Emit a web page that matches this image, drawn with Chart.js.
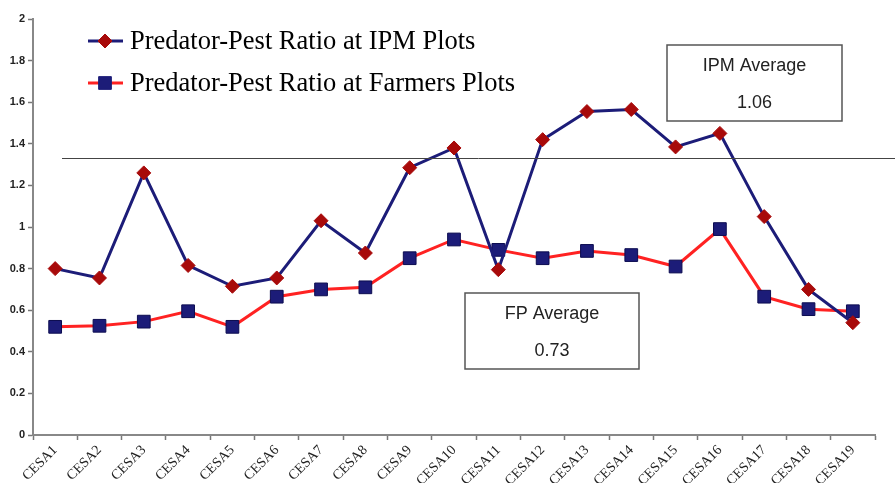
<!DOCTYPE html>
<html lang="en">
<head>
  <meta charset="UTF-8">
  <title>Predator-Pest Ratio</title>
  <script src="https://cdn.jsdelivr.net/npm/chart.js"></script>
  <style>
    html, body { margin: 0; padding: 0; background: #fff; }
    #wrap { width: 895px; height: 483px; }
  </style>
</head>
<body>
  <div id="wrap"><canvas id="ratioChart" width="895" height="483"></canvas></div>

  <script>
    const sites = ['CESA1', 'CESA2', 'CESA3', 'CESA4', 'CESA5', 'CESA6', 'CESA7', 'CESA8', 'CESA9', 'CESA10',
      'CESA11', 'CESA12', 'CESA13', 'CESA14', 'CESA15', 'CESA16', 'CESA17', 'CESA18', 'CESA19'];
    const ipmRatio = [0.80, 0.755, 1.26, 0.815, 0.715, 0.755, 1.03, 0.875, 1.285, 1.38,
      0.795, 1.42, 1.555, 1.565, 1.385, 1.45, 1.05, 0.70, 0.54];
    const farmerRatio = [0.52, 0.525, 0.545, 0.595, 0.52, 0.665, 0.70, 0.71, 0.85, 0.94,
      0.89, 0.85, 0.885, 0.865, 0.81, 0.99, 0.665, 0.605, 0.595];
    const yTicks = [0, 0.2, 0.4, 0.6, 0.8, 1, 1.2, 1.4, 1.6, 1.8, 2];
    const refLine = 1.33;
    const ipmAvg = '1.06';
    const fpAvg = '0.73';

    const navy = '#1c1c78';
    const red = '#ff2222';
    const darkRed = '#a80a0a';

    // legend, average boxes and the reference line
    const extras = {
      id: 'extras',
      afterDatasetsDraw(chart) {
        const ctx = chart.ctx;
        const y = chart.scales.y;
        ctx.save();

        // horizontal line
        ctx.strokeStyle = '#444';
        ctx.lineWidth = 1;
        ctx.beginPath();
        const ly = Math.round(y.getPixelForValue(refLine)) + 0.5;
        ctx.moveTo(62, ly);
        ctx.lineTo(chart.width, ly);
        ctx.stroke();

        // legend
        const items = [
          { text: 'Predator-Pest Ratio at IPM Plots', line: navy, fill: darkRed, style: 'rectRot', r: 7, y: 41 },
          { text: 'Predator-Pest Ratio at Farmers Plots', line: red, fill: navy, style: 'rect', r: 9, y: 83 }
        ];
        items.forEach(it => {
          ctx.strokeStyle = it.line;
          ctx.lineWidth = 3;
          ctx.beginPath();
          ctx.moveTo(88, it.y);
          ctx.lineTo(123, it.y);
          ctx.stroke();
          ctx.fillStyle = it.fill;
          ctx.strokeStyle = it.fill;
          ctx.lineWidth = 1;
          Chart.helpers.drawPoint(ctx, { pointStyle: it.style, radius: it.r, borderWidth: 1 }, 105, it.y);
          ctx.fillStyle = '#000';
          ctx.font = '26.5px "Liberation Serif", "Times New Roman", serif';
          ctx.textAlign = 'left';
          ctx.textBaseline = 'middle';
          ctx.fillText(it.text, 130, it.y + 1);
        });

        // average boxes
        const boxes = [
          { x: 667, y: 45, w: 175, h: 76, title: 'IPM Average', val: ipmAvg },
          { x: 465, y: 293, w: 174, h: 76, title: 'FP Average', val: fpAvg }
        ];
        boxes.forEach(b => {
          ctx.fillStyle = '#fff';
          ctx.fillRect(b.x, b.y, b.w, b.h);
          ctx.strokeStyle = '#555';
          ctx.lineWidth = 1.5;
          ctx.strokeRect(b.x, b.y, b.w, b.h);
          ctx.fillStyle = '#222';
          ctx.font = '18px "Liberation Sans", Arial, sans-serif';
          ctx.textAlign = 'center';
          ctx.textBaseline = 'middle';
          ctx.fillText(b.title, b.x + b.w / 2, b.y + 21);
          ctx.fillText(b.val, b.x + b.w / 2, b.y + 58);
        });

        ctx.restore();
      }
    };

    new Chart(document.getElementById('ratioChart'), {
      type: 'line',
      data: {
        labels: sites,
        datasets: [
          {
            label: 'Predator-Pest Ratio at IPM Plots',
            data: ipmRatio,
            borderColor: navy,
            borderWidth: 3,
            pointStyle: 'rectRot',
            pointRadius: 7,
            pointBackgroundColor: darkRed,
            pointBorderColor: darkRed,
            pointBorderWidth: 1,
            tension: 0,
            order: 1
          },
          {
            label: 'Predator-Pest Ratio at Farmers Plots',
            data: farmerRatio,
            borderColor: red,
            borderWidth: 3,
            pointStyle: 'rect',
            pointRadius: 9,
            pointBackgroundColor: navy,
            pointBorderColor: '#0c0c50',
            pointBorderWidth: 1,
            tension: 0,
            order: 2
          }
        ]
      },
      options: {
        responsive: false,
        animation: false,
        layout: { padding: { top: 19, right: 20, left: 0, bottom: 0 } },
        plugins: {
          legend: { display: false },
          tooltip: { enabled: false }
        },
        scales: {
          x: {
            offset: true,
            grid: { offset: true, drawOnChartArea: false, tickLength: 5, color: '#777', tickWidth: 1.5 },
            border: { color: '#888', width: 2 },
            ticks: {
              autoSkip: false,
              maxRotation: 45,
              minRotation: 45,
              color: '#222',
              padding: 2,
              font: { family: '"Liberation Serif", "Times New Roman", serif', size: 14 }
            },
            afterFit(scale) { scale.height = 48; }
          },
          y: {
            min: 0,
            max: 2,
            afterBuildTicks(scale) { scale.ticks = yTicks.map(v => ({ value: v })); },
            grid: { drawOnChartArea: false, tickLength: 5, color: '#777', tickWidth: 1.5 },
            border: { color: '#888', width: 2 },
            ticks: {
              color: '#222',
              padding: 3,
              font: { family: '"Liberation Sans", Arial, sans-serif', size: 11, weight: 'bold' },
              callback: v => String(v)
            },
            afterFit(scale) { scale.width = 33; }
          }
        }
      },
      plugins: [extras]
    });
  </script>
</body>
</html>
